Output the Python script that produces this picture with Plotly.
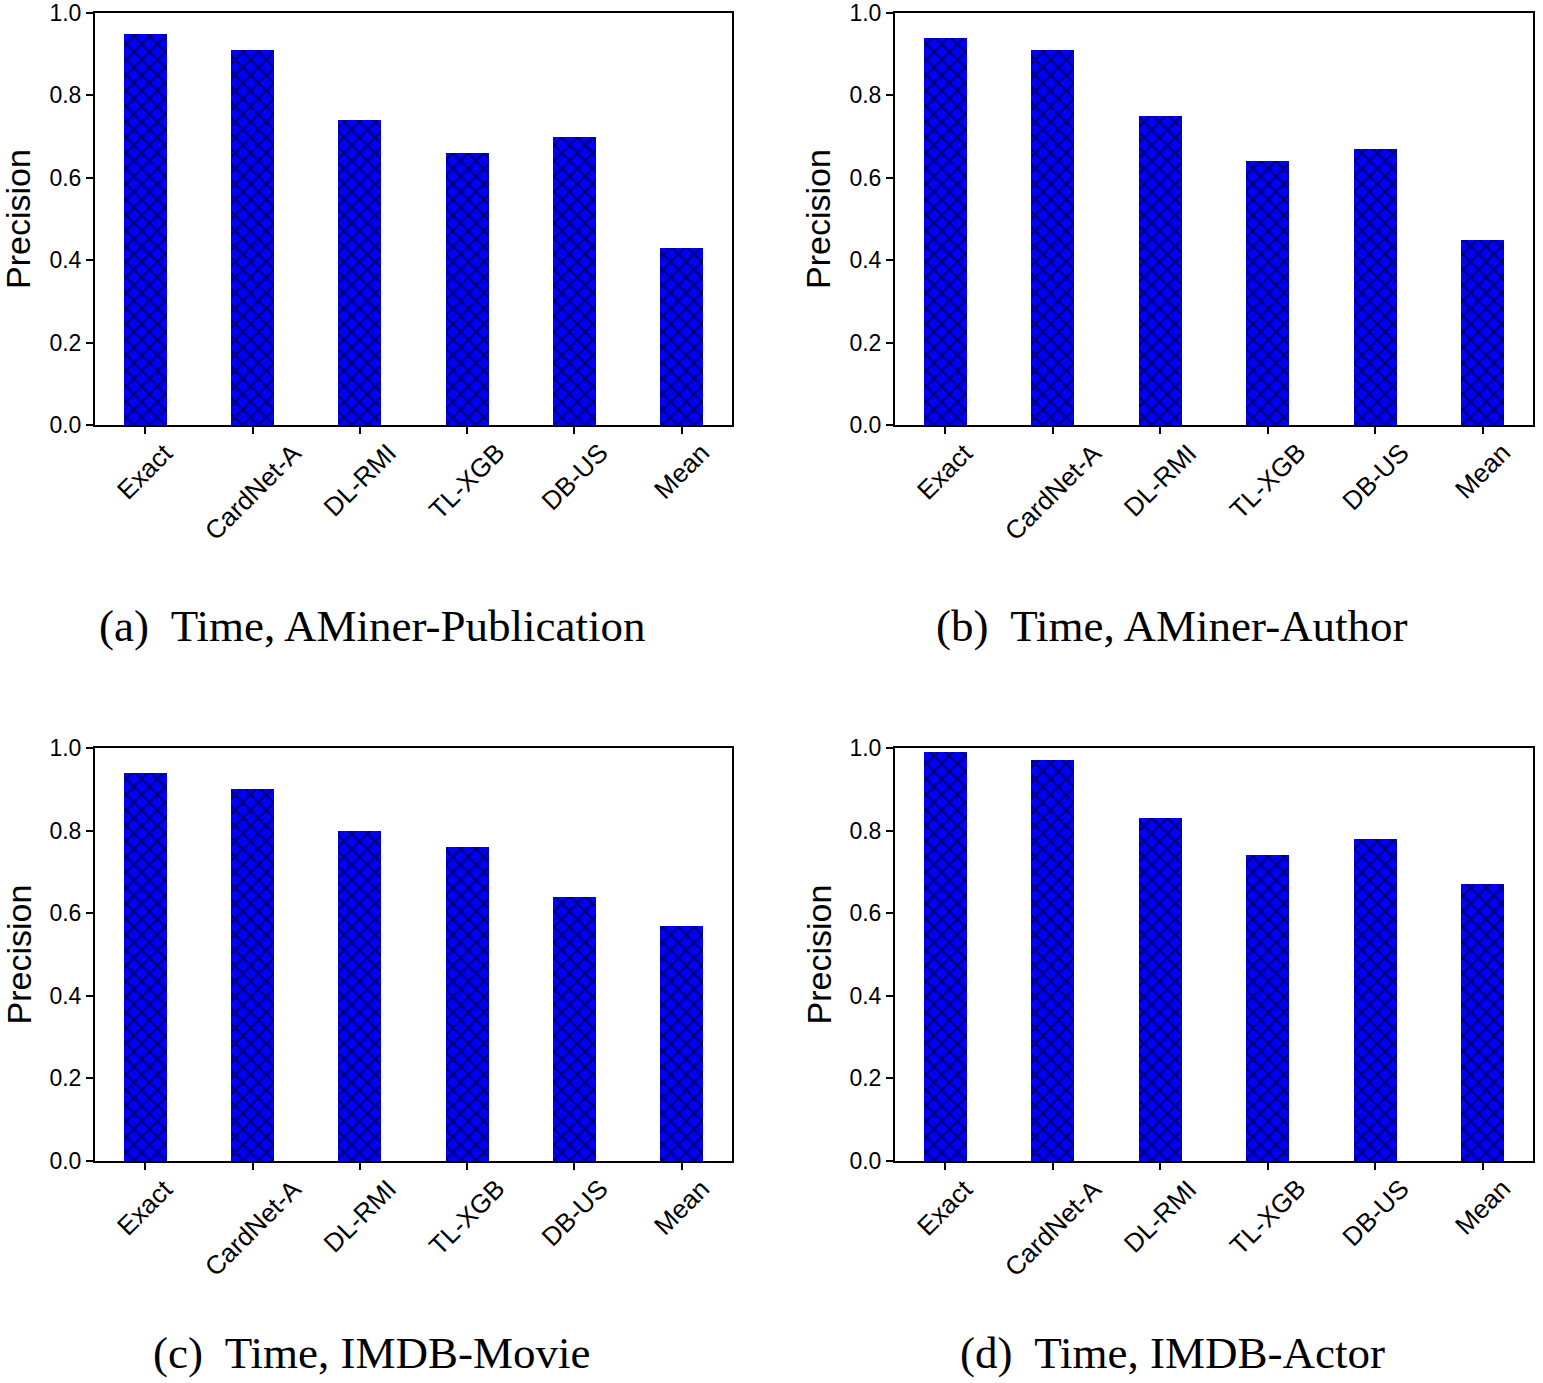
import plotly.graph_objects as go

categories = ["Exact", "CardNet-A", "DL-RMI", "TL-XGB", "DB-US", "Mean"]
prec_a = [0.95, 0.91, 0.74, 0.66, 0.70, 0.43]
prec_b = [0.94, 0.91, 0.75, 0.64, 0.67, 0.45]
prec_c = [0.94, 0.90, 0.80, 0.76, 0.64, 0.57]
prec_d = [0.99, 0.97, 0.83, 0.74, 0.78, 0.67]
captions = ["(a)  Time, AMiner-Publication", "(b)  Time, AMiner-Author",
            "(c)  Time, IMDB-Movie", "(d)  Time, IMDB-Actor"]
y_ticks = [0.0, 0.2, 0.4, 0.6, 0.8, 1.0]
y_title = "Precision"

W, H = 1543, 1383
series = [prec_a, prec_b, prec_c, prec_d]

# pixel layout of each panel: (left, right, top, bottom)
boxes = [(95, 732, 13, 425), (895, 1533, 13, 425),
         (95, 732, 748, 1161), (895, 1533, 748, 1161)]
cap_pos = [(372, 626), (1172, 626), (372, 1353), (1172, 1353)]

fig = go.Figure()
annotations = []
for i, (vals, box) in enumerate(zip(series, boxes)):
    n = i + 1
    xa = "x" if n == 1 else f"x{n}"
    ya = "y" if n == 1 else f"y{n}"
    fig.add_trace(go.Bar(
        x=list(range(len(categories))), y=vals, width=0.4,
        xaxis=xa, yaxis=ya,
        marker=dict(color="#0000ff", line=dict(width=0),
                    pattern=dict(shape="x", fgcolor="black", bgcolor="#0000ff",
                                 size=11, solidity=0.4)),
        showlegend=False, hoverinfo="skip"))
    l, r, t, b = box
    xkey = "xaxis" if n == 1 else f"xaxis{n}"
    ykey = "yaxis" if n == 1 else f"yaxis{n}"
    fig.layout[xkey] = dict(
        domain=[l / W, r / W], anchor=ya, range=[-0.47, 5.47], automargin=False,
        tickmode="array", tickvals=list(range(len(categories))),
        showticklabels=False,
        ticks="outside", ticklen=7, tickwidth=2, tickcolor="black",
        showline=True, linewidth=2, linecolor="black", mirror=True,
        showgrid=False, zeroline=False)
    fig.layout[ykey] = dict(
        domain=[(H - b) / H, (H - t) / H], anchor=xa, range=[0, 1.0], automargin=False,
        tickmode="array", tickvals=y_ticks, ticktext=[f"{v:.1f}" for v in y_ticks],
        ticks="outside", ticklen=7, tickwidth=2, tickcolor="black",
        showline=True, linewidth=2, linecolor="black", mirror=True,
        showgrid=False, zeroline=False, ticklabeloverflow="allow",
        tickfont=dict(family="Liberation Sans", size=23, color="black"))
    # category labels, centred under their ticks and rotated 45 degrees
    for k, cat in enumerate(categories):
        annotations.append(dict(
            x=k, xref=xa, y=(H - b - 11) / H, yref="paper",
            text=cat, textangle=-45, showarrow=False,
            font=dict(family="Liberation Sans", size=26, color="black"),
            xanchor="center", yanchor="top", borderpad=0))
    annotations.append(dict(
        x=(l - 77) / W, y=(H - (t + b) / 2) / H, xref="paper", yref="paper",
        text=y_title, textangle=-90, showarrow=False,
        font=dict(family="Liberation Sans", size=34, color="black"),
        xanchor="center", yanchor="middle"))
    cx, cy = cap_pos[i]
    annotations.append(dict(
        x=cx / W, y=(H - cy) / H, xref="paper", yref="paper",
        text=captions[i], showarrow=False,
        font=dict(family="Liberation Serif", size=45, color="black"),
        xanchor="center", yanchor="middle"))

fig.update_layout(width=W, height=H, margin=dict(l=0, r=0, t=0, b=0),
                  plot_bgcolor="white", paper_bgcolor="white",
                  annotations=annotations, bargap=0)
fig.write_html("out.html", config={"displayModeBar": False},
               post_script="document.body.style.margin='0';document.body.style.overflow='hidden';")
